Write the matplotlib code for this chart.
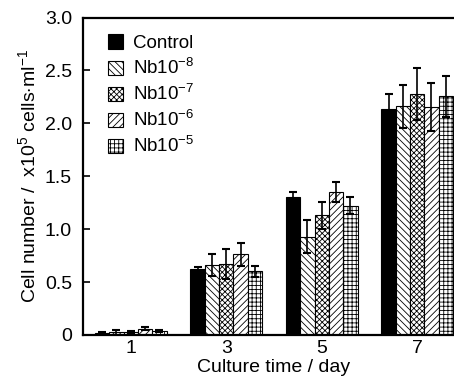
import matplotlib
matplotlib.use("Agg")
import matplotlib.pyplot as plt
import numpy as np

plt.rcParams['font.family'] = ['Liberation Sans', 'DejaVu Sans']
plt.rcParams['mathtext.fontset'] = 'custom'
plt.rcParams['mathtext.rm'] = 'Liberation Sans'
plt.rcParams['mathtext.it'] = 'Liberation Sans:italic'
plt.rcParams['hatch.linewidth'] = 0.6

days = [1, 3, 5, 7]
groups = ['Control', 'Nb10$^{-8}$', 'Nb10$^{-7}$', 'Nb10$^{-6}$', 'Nb10$^{-5}$']
means = [
    [0.02, 0.62, 1.30, 2.135],   # control
    [0.025, 0.66, 0.93, 2.16],   # 1e-8
    [0.03, 0.67, 1.13, 2.28],    # 1e-7
    [0.06, 0.76, 1.355, 2.155],  # 1e-6
    [0.04, 0.60, 1.22, 2.255],   # 1e-5
]
errs = [
    [0.01, 0.02, 0.055, 0.145],
    [0.025, 0.10, 0.16, 0.20],
    [0.01, 0.14, 0.13, 0.245],
    [0.01, 0.11, 0.095, 0.225],
    [0.01, 0.05, 0.08, 0.195],
]
hatches = [None, '\\\\\\\\\\', 'xxxxxx', '/////', '++++']

fig = plt.figure(figsize=(4.54, 3.81), dpi=100)
ax = fig.add_axes([0.183, 0.121, 0.841, 0.833])

w = 0.30
x = np.array(days, dtype=float)
for i in range(5):
    off = (i - 2) * w
    if hatches[i] is None:
        ax.bar(x + off, means[i], w, color='black', edgecolor='black',
               linewidth=0.8, label=groups[i], zorder=2)
    else:
        ax.bar(x + off, means[i], w, color='white', edgecolor='black',
               hatch=hatches[i], linewidth=0.8, label=groups[i], zorder=2)
    ax.errorbar(x + off, means[i], yerr=errs[i], fmt='none', ecolor='black',
                elinewidth=1.2, capsize=3, capthick=1.5, zorder=3)

ax.set_xlim(0, 8)
ax.set_ylim(0, 3.0)
ax.set_xticks(days)
ax.set_xticklabels([str(d) for d in days])
ax.set_yticks([0, 0.5, 1.0, 1.5, 2.0, 2.5, 3.0])
ax.set_yticklabels(['0', '0.5', '1.0', '1.5', '2.0', '2.5', '3.0'])
ax.tick_params(axis='y', direction='in', length=5, width=1.2, labelsize=14, pad=8)
ax.tick_params(axis='x', length=0, labelsize=14, pad=4)
for s in ax.spines.values():
    s.set_linewidth(1.6)

ax.set_xlabel('Culture time / day', fontsize=14, labelpad=1)
ax.set_ylabel('Cell number /  x10$^{5}$ cells$\\cdot$ml$^{-1}$', fontsize=14, labelpad=4)

leg = ax.legend(loc='upper left', bbox_to_anchor=(0.02, 1.0), frameon=False,
                fontsize=13.5, handlelength=0.8, handleheight=0.8,
                labelspacing=0.32, handletextpad=0.55)

fig.savefig('out.png', dpi=100)
